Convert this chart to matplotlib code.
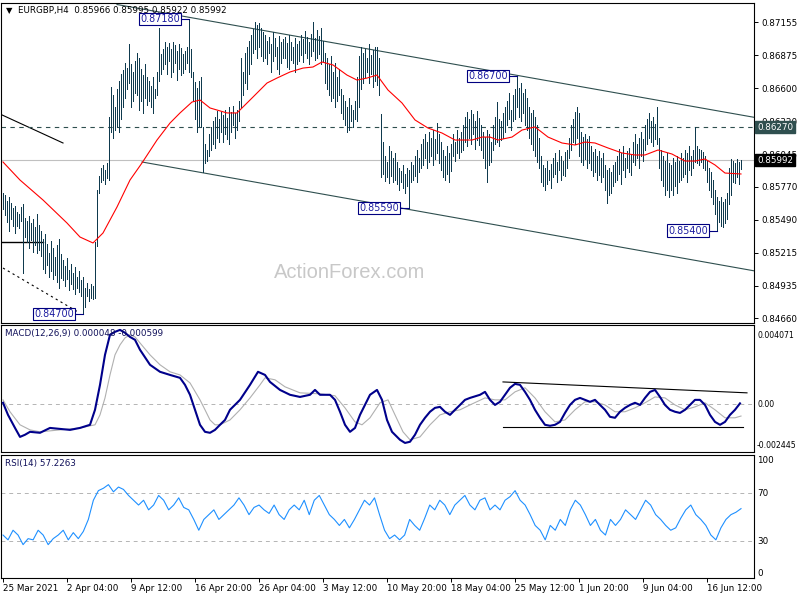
import numpy as np
import matplotlib
matplotlib.use("Agg")
import matplotlib.pyplot as plt
from matplotlib.transforms import blended_transform_factory as btf

plt.rcParams['font.family'] = ['DejaVu Sans']

symbol = "EURGBP,H4"
last_ohlc = ["0.85966", "0.85995", "0.85922", "0.85992"]
last_close = 0.85992
resistance = 0.8627

highs = [
    0.8572, 0.8570, 0.8565, 0.8568, 0.8563, 0.8559, 0.8561, 0.8556, 0.8554, 0.8560,
    0.8562, 0.8551, 0.8548, 0.8552, 0.8546, 0.8550, 0.8543, 0.8554, 0.8545, 0.8540,
    0.8533, 0.8537, 0.8529, 0.8521, 0.8531, 0.8525, 0.8518, 0.8528, 0.8533, 0.8520,
    0.8515, 0.8510, 0.8517, 0.8507, 0.8512, 0.8504, 0.8509, 0.8501, 0.8506, 0.8498,
    0.8501, 0.8492, 0.8496, 0.8491, 0.8495, 0.8493, 0.8530, 0.8574, 0.8586, 0.8593,
    0.8595, 0.8591, 0.8597, 0.8636, 0.8661, 0.8654, 0.8644, 0.8659, 0.8666, 0.8672,
    0.8675, 0.8681, 0.8677, 0.8697, 0.8680, 0.8674, 0.8683, 0.8690, 0.8685, 0.8676,
    0.8671, 0.8680, 0.8669, 0.8666, 0.8662, 0.8669, 0.8659, 0.8674, 0.8711, 0.8689,
    0.8693, 0.8699, 0.8695, 0.8698, 0.8693, 0.8699, 0.8696, 0.8691, 0.8697, 0.8694,
    0.8689, 0.8691, 0.8695, 0.8718, 0.8693, 0.8674, 0.8665, 0.8660, 0.8666, 0.8669,
    0.8627, 0.8613, 0.8608, 0.8621, 0.8627, 0.8632, 0.8636, 0.8641, 0.8634, 0.8640,
    0.8637, 0.8642, 0.8635, 0.8644, 0.8640, 0.8645, 0.8639, 0.8642, 0.8649, 0.8685,
    0.8674, 0.8690, 0.8695, 0.8700, 0.8705, 0.8710, 0.8716, 0.8713, 0.8715, 0.8711,
    0.8707, 0.8705, 0.8700, 0.8703, 0.8697, 0.8707, 0.8702, 0.8695, 0.8704, 0.8699,
    0.8701, 0.8703, 0.8698, 0.8705, 0.8699, 0.8695, 0.8702, 0.8697, 0.8700, 0.8705,
    0.8701, 0.8708, 0.8703, 0.8699, 0.8706, 0.8716, 0.8702, 0.8709, 0.8704, 0.8711,
    0.8700, 0.8690, 0.8685, 0.8680, 0.8687, 0.8674, 0.8681, 0.8669, 0.8676, 0.8659,
    0.8654, 0.8649, 0.8644, 0.8652, 0.8646, 0.8642, 0.8649, 0.8669, 0.8687, 0.8695,
    0.8690, 0.8693, 0.8685, 0.8697, 0.8688, 0.8692, 0.8695, 0.8695, 0.8685, 0.8638,
    0.8615, 0.8603, 0.8598, 0.8611, 0.8607, 0.8601, 0.8605, 0.8598, 0.8593, 0.8590,
    0.8595, 0.8588, 0.8593, 0.8591, 0.8598, 0.8595, 0.8603, 0.8608, 0.8601, 0.8613,
    0.8617, 0.8621, 0.8615, 0.8623, 0.8618, 0.8625, 0.8617, 0.8631, 0.8621, 0.8615,
    0.8608, 0.8603, 0.8611, 0.8605, 0.8613, 0.8621, 0.8615, 0.8625, 0.8618, 0.8623,
    0.8629, 0.8636, 0.8640, 0.8634, 0.8642, 0.8638, 0.8632, 0.8641, 0.8635, 0.8629,
    0.8623, 0.8619, 0.8625, 0.8621, 0.8615, 0.8629, 0.8636, 0.8648, 0.8634, 0.8632,
    0.8639, 0.8644, 0.8649, 0.8656, 0.8642, 0.8654, 0.8659, 0.8670, 0.8660, 0.8664,
    0.8656, 0.8659, 0.8652, 0.8644, 0.8639, 0.8642, 0.8636, 0.8629, 0.8618, 0.8603,
    0.8595, 0.8593, 0.8599, 0.8591, 0.8596, 0.8601, 0.8605, 0.8598, 0.8608, 0.8603,
    0.8599, 0.8606, 0.8608, 0.8618, 0.8629, 0.8634, 0.8640, 0.8644, 0.8639, 0.8623,
    0.8619, 0.8621, 0.8617, 0.8620, 0.8611, 0.8606, 0.8609, 0.8603, 0.8607, 0.8601,
    0.8605, 0.8595, 0.8591, 0.8593, 0.8589, 0.8595, 0.8598, 0.8603, 0.8609, 0.8605,
    0.8611, 0.8601, 0.8607, 0.8610, 0.8604, 0.8615, 0.8621, 0.8613, 0.8618, 0.8623,
    0.8617, 0.8629, 0.8634, 0.8639, 0.8632, 0.8636, 0.8630, 0.8644, 0.8618, 0.8608,
    0.8603, 0.8599, 0.8605, 0.8597, 0.8595, 0.8601, 0.8598, 0.8603, 0.8599, 0.8605,
    0.8601, 0.8608, 0.8605, 0.8611, 0.8603, 0.8608, 0.8627, 0.8611, 0.8609, 0.8608,
    0.8606, 0.8603, 0.8599, 0.8593, 0.8589, 0.8583, 0.8574, 0.8568, 0.8565, 0.8568,
    0.8564, 0.8567, 0.8572, 0.8593, 0.8600, 0.8599, 0.8597, 0.8600, 0.8598, 0.85995,
]
lows = [
    0.8558, 0.8553, 0.8547, 0.8540, 0.8550, 0.8544, 0.8538, 0.8544, 0.8542, 0.8548,
    0.8504, 0.8535, 0.8530, 0.8525, 0.8532, 0.8522, 0.8528, 0.8521, 0.8524, 0.8519,
    0.8508, 0.8504, 0.8511, 0.8501, 0.8506, 0.8499, 0.8503, 0.8497, 0.8492, 0.8500,
    0.8498, 0.8493, 0.8499, 0.8490, 0.8495, 0.8491, 0.8487, 0.8492, 0.8488, 0.8485,
    0.8470, 0.8476, 0.8485, 0.8481, 0.8483, 0.8482, 0.8483, 0.8527, 0.8572, 0.8581,
    0.8583, 0.8579, 0.8584, 0.8583, 0.8623, 0.8618, 0.8625, 0.8627, 0.8623, 0.8634,
    0.8644, 0.8652, 0.8659, 0.8664, 0.8644, 0.8649, 0.8656, 0.8654, 0.8642, 0.8649,
    0.8639, 0.8652, 0.8646, 0.8649, 0.8644, 0.8639, 0.8652, 0.8654, 0.8666, 0.8672,
    0.8676, 0.8680, 0.8672, 0.8683, 0.8669, 0.8674, 0.8681, 0.8667, 0.8676, 0.8671,
    0.8673, 0.8676, 0.8681, 0.8674, 0.8669, 0.8649, 0.8634, 0.8623, 0.8628, 0.8627,
    0.8589, 0.8597, 0.8599, 0.8603, 0.8608, 0.8613, 0.8610, 0.8618, 0.8615, 0.8623,
    0.8615, 0.8621, 0.8617, 0.8613, 0.8623, 0.8629, 0.8618, 0.8625, 0.8632, 0.8644,
    0.8654, 0.8664, 0.8659, 0.8672, 0.8680, 0.8690, 0.8693, 0.8685, 0.8695, 0.8687,
    0.8683, 0.8685, 0.8680, 0.8690, 0.8674, 0.8683, 0.8687, 0.8676, 0.8672, 0.8681,
    0.8685, 0.8685, 0.8678, 0.8676, 0.8684, 0.8681, 0.8674, 0.8680, 0.8683, 0.8688,
    0.8682, 0.8690, 0.8685, 0.8680, 0.8687, 0.8691, 0.8684, 0.8685, 0.8689, 0.8680,
    0.8683, 0.8664, 0.8659, 0.8654, 0.8649, 0.8652, 0.8644, 0.8649, 0.8654, 0.8639,
    0.8634, 0.8629, 0.8623, 0.8625, 0.8632, 0.8627, 0.8634, 0.8632, 0.8644, 0.8659,
    0.8664, 0.8669, 0.8674, 0.8664, 0.8672, 0.8661, 0.8666, 0.8663, 0.8654, 0.8585,
    0.8588, 0.8582, 0.8585, 0.8580, 0.8586, 0.8581, 0.8583, 0.8579, 0.8574, 0.8581,
    0.8576, 0.8572, 0.8578, 0.8559, 0.8581, 0.8583, 0.8586, 0.8581, 0.8589, 0.8593,
    0.8595, 0.8601, 0.8593, 0.8598, 0.8603, 0.8595, 0.8600, 0.8605, 0.8597, 0.8591,
    0.8585, 0.8583, 0.8588, 0.8581, 0.8590, 0.8603, 0.8599, 0.8605, 0.8601, 0.8606,
    0.8608, 0.8615, 0.8611, 0.8618, 0.8613, 0.8621, 0.8609, 0.8616, 0.8612, 0.8608,
    0.8601, 0.8593, 0.8581, 0.8595, 0.8598, 0.8608, 0.8613, 0.8615, 0.8611, 0.8616,
    0.8618, 0.8623, 0.8629, 0.8634, 0.8625, 0.8632, 0.8634, 0.8644, 0.8636, 0.8632,
    0.8639, 0.8629, 0.8625, 0.8618, 0.8613, 0.8608, 0.8603, 0.8598, 0.8593, 0.8581,
    0.8578, 0.8574, 0.8579, 0.8583, 0.8576, 0.8585, 0.8588, 0.8581, 0.8591, 0.8583,
    0.8587, 0.8586, 0.8593, 0.8601, 0.8608, 0.8615, 0.8613, 0.8618, 0.8603, 0.8598,
    0.8595, 0.8600, 0.8593, 0.8597, 0.8591, 0.8586, 0.8589, 0.8583, 0.8587, 0.8581,
    0.8585, 0.8574, 0.8563, 0.8570, 0.8572, 0.8578, 0.8581, 0.8583, 0.8588, 0.8579,
    0.8591, 0.8585, 0.8593, 0.8589, 0.8587, 0.8598, 0.8595, 0.8601, 0.8593, 0.8603,
    0.8599, 0.8608, 0.8613, 0.8618, 0.8615, 0.8611, 0.8617, 0.8613, 0.8593, 0.8583,
    0.8578, 0.8570, 0.8574, 0.8568, 0.8574, 0.8570, 0.8578, 0.8572, 0.8581, 0.8583,
    0.8585, 0.8588, 0.8581, 0.8591, 0.8587, 0.8593, 0.8598, 0.8597, 0.8595, 0.8598,
    0.8593, 0.8591, 0.8581, 0.8574, 0.8568, 0.8562, 0.8554, 0.8540, 0.8547, 0.8544,
    0.8543, 0.8546, 0.8550, 0.8562, 0.8570, 0.8581, 0.8580, 0.8585, 0.8579, 0.85922,
]

# moving average (bar index, value)
ma_idx = [0, 8.5, 20, 32, 38.5, 45, 50, 57, 63.5, 69.5,
          77, 83.5, 88.5, 94.5, 98.5, 103.5, 112, 117, 125, 132,
          137, 143.5, 150, 155, 159.5, 165, 172, 177, 182, 187,
          192.5, 199.5, 206, 212.5, 219.5, 226, 234.5, 239.5, 243.5, 247.5,
          254.5, 259.5, 266, 272.5, 279.5, 286, 291, 296, 302.5, 309.5,
          316, 321, 327.5, 334.5, 341, 346, 351, 356, 361, 369]
ma_val = [0.85978, 0.85826, 0.85658, 0.85464, 0.85346, 0.85296, 0.85380, 0.85599, 0.85826, 0.85970,
          0.86163, 0.86306, 0.86391, 0.86483, 0.86500, 0.86433, 0.86391, 0.86391, 0.86525, 0.86643,
          0.86685, 0.86736, 0.86769, 0.86778, 0.86820, 0.86795, 0.86710, 0.86668, 0.86685, 0.86710,
          0.86584, 0.86475, 0.86332, 0.86264, 0.86222, 0.86163, 0.86163, 0.86188, 0.86188, 0.86163,
          0.86188, 0.86247, 0.86273, 0.86188, 0.86138, 0.86121, 0.86146, 0.86138, 0.86096, 0.86054,
          0.86037, 0.86037, 0.86079, 0.86045, 0.85986, 0.85986, 0.86003, 0.85953, 0.85885, 0.85877]

# MACD main line
macd_idx = [0, 2.5, 6, 8.5, 11, 13.5, 18.5, 23.5, 28.5, 33.5,
            38.5, 43.5, 46, 48.5, 51, 53.5, 56, 58.5, 61, 63.5,
            66, 68.5, 73.5, 78.5, 83.5, 88.5, 91, 93.5, 96, 98.5,
            101, 103.5, 106, 108.5, 111, 113.5, 118.5, 123.5, 127.5, 131,
            133.5, 138.5, 143.5, 148.5, 153.5, 156, 158.5, 163.5, 166, 168.5,
            171, 173.5, 176, 178.5, 183.5, 187, 189.5, 192, 194.5, 198.5,
            201, 203.5, 206, 208.5, 211, 213.5, 216, 218.5, 221, 223.5,
            226, 228.5, 231, 233.5, 238.5, 241, 243.5, 246, 248.5, 251,
            253.5, 256, 258.5, 261, 263.5, 266, 268.5, 271, 273.5, 276,
            278.5, 281, 283.5, 286, 288.5, 291, 293.5, 296, 298.5, 301,
            303.5, 306, 308.5, 311, 313.5, 316, 318.5, 321, 323.5, 326,
            328.5, 331, 333.5, 336, 338.5, 341, 343.5, 346, 348.5, 351,
            353.5, 356, 358.5, 361, 363.5, 366, 368.5]
macd_main = [0.00008, -0.00054, -0.00121, -0.00167, -0.00156, -0.00141, -0.00146, -0.00121, -0.00126, -0.00131,
             -0.00121, -0.00105, -0.00028, 0.00100, 0.00254, 0.00357, 0.00372, 0.00382, 0.00367, 0.00346,
             0.00331, 0.00280, 0.00203, 0.00167, 0.00151, 0.00136, 0.00100, 0.00049, -0.00028, -0.00105,
             -0.00141, -0.00146, -0.00131, -0.00105, -0.00080, -0.00028, 0.00023, 0.00100, 0.00167, 0.00151,
             0.00115, 0.00074, 0.00049, 0.00038, 0.00049, 0.00074, 0.00049, 0.00049, 0.00023, -0.00038,
             -0.00105, -0.00141, -0.00121, -0.00054, 0.00049, 0.00074, 0.00023, -0.00080, -0.00141, -0.00182,
             -0.00198, -0.00192, -0.00156, -0.00105, -0.00069, -0.00038, -0.00018, -0.00013, -0.00038, -0.00054,
             -0.00028, -0.00003, 0.00023, 0.00033, 0.00049, 0.00064, 0.00023, -0.00003, 0.00013, 0.00049,
             0.00085, 0.00105, 0.00100, 0.00064, 0.00023, -0.00028, -0.00069, -0.00105, -0.00110, -0.00105,
             -0.00090, -0.00044, -0.00003, 0.00023, 0.00033, 0.00023, 0.00013, 0.00023, -0.00003, -0.00028,
             -0.00064, -0.00069, -0.00038, -0.00018, -0.00003, 0.00008, -0.00003, 0.00033, 0.00064, 0.00074,
             0.00038, -0.00003, -0.00028, -0.00038, -0.00044, -0.00028, -0.00003, 0.00023, 0.00023, -0.00003,
             -0.00054, -0.00090, -0.00105, -0.00090, -0.00054, -0.00028, 0.00005]

# MACD signal line
sig_idx = [0, 3.5, 8.5, 13.5, 18.5, 28.5, 38.5, 46, 48.5, 51,
           53.5, 56, 58.5, 61, 63.5, 66, 68.5, 73.5, 78.5, 83.5,
           88.5, 93.5, 98.5, 101, 103.5, 106, 108.5, 113.5, 118.5, 123.5,
           128.5, 131, 136, 141, 148.5, 158.5, 166, 171, 176, 179.5,
           183.5, 188.5, 192.5, 196, 200, 203.5, 208.5, 213.5, 218.5, 223.5,
           228.5, 233.5, 241, 246, 251, 256, 261, 266, 271, 276,
           281, 286, 291, 296, 301, 306, 311, 316, 321, 326,
           331, 336, 341, 346, 351, 356, 361, 366, 369]
sig_val = [0.00023, -0.00038, -0.00105, -0.00131, -0.00141, -0.00131, -0.00121, -0.00105, -0.00054, 0.00033,
           0.00151, 0.00254, 0.00305, 0.00341, 0.00357, 0.00346, 0.00315, 0.00254, 0.00203, 0.00167,
           0.00151, 0.00110, 0.00023, -0.00028, -0.00080, -0.00105, -0.00105, -0.00080, -0.00028, 0.00033,
           0.00100, 0.00136, 0.00126, 0.00090, 0.00059, 0.00054, 0.00044, -0.00018, -0.00090, -0.00105,
           -0.00069, 0.00008, 0.00023, -0.00054, -0.00141, -0.00182, -0.00167, -0.00105, -0.00054, -0.00038,
           -0.00028, -0.00003, 0.00033, 0.00023, 0.00023, 0.00064, 0.00085, 0.00033, -0.00038, -0.00090,
           -0.00080, -0.00028, 0.00013, 0.00013, -0.00003, -0.00038, -0.00038, -0.00018, 0.00008, 0.00038,
           0.00033, -0.00003, -0.00028, -0.00013, 0.00008, -0.00028, -0.00069, -0.00069, -0.00060]
macd_label = "MACD(12,26,9) 0.000048 -0.000599"
macd_range = (-0.002445, 0.004071)

# RSI(14), sampled across the whole window
rsi_val = [35, 31, 39, 35, 27, 32, 31, 39, 35, 27,
           32, 35, 39, 31, 37, 32, 38, 48, 64, 72,
           74, 77, 71, 75, 73, 68, 64, 60, 64, 56,
           60, 68, 64, 56, 60, 66, 58, 56, 48, 39,
           48, 52, 56, 48, 52, 56, 60, 66, 60, 52,
           58, 60, 56, 53, 60, 52, 48, 56, 60, 56,
           64, 52, 64, 68, 60, 52, 48, 43, 48, 41,
           48, 56, 64, 60, 66, 52, 39, 32, 35, 31,
           35, 48, 43, 39, 49, 60, 56, 64, 60, 52,
           60, 64, 68, 60, 56, 64, 66, 56, 60, 56,
           64, 67, 72, 64, 60, 52, 43, 39, 31, 43,
           39, 48, 43, 56, 64, 60, 52, 43, 48, 39,
           35, 48, 43, 48, 56, 52, 48, 56, 64, 60,
           52, 48, 43, 39, 41, 49, 56, 60, 52, 48,
           43, 35, 31, 41, 48, 52, 54, 57]
rsi_label = "RSI(14) 57.2263"

price_ticks = [0.84660, 0.84935, 0.85215, 0.85490, 0.85770,
               0.86045, 0.86320, 0.86600, 0.86875, 0.87155]
date_idx = [0, 32, 64, 96, 128, 160, 192, 224, 256, 288, 320, 352]
date_labels = ["25 Mar 2021", "2 Apr 04:00", "9 Apr 12:00", "16 Apr 20:00",
               "26 Apr 04:00", "3 May 12:00", "10 May 20:00", "18 May 04:00",
               "25 May 12:00", "1 Jun 20:00", "9 Jun 04:00", "16 Jun 12:00"]

ann_text = ["0.87180", "0.84700", "0.85590", "0.86700", "0.85400"]
ann_price = [0.8718, 0.8470, 0.8559, 0.8670, 0.8540]
ann_bar = [93, 40, 203, 257, 357]
ann_box_left = [67.5, 14.5, 177, 231.5, 331.5]

chan_up = ([57, 376], [0.87304, 0.86353])
chan_lo = ([69.5, 376], [0.85978, 0.85060])
old_diag = ([-1.5, 30], [0.86382, 0.86138])
old_hline = ([-1.5, 20], [0.85307, 0.85307])
old_dash = ([0, 37.5], [0.85085, 0.84715])
macd_tri_up = ([250, 372], [0.00115, 0.00059])
macd_tri_lo = ([250, 370], [-0.00115, -0.00115])

# ---------------------------------------------------------------- layout
W, H = 800, 600
fig = plt.figure(figsize=(8, 6), dpi=100)
fig.patch.set_facecolor('white')


def rect(x0, y0, x1, y1):
    return [x0 / W, 1 - y1 / H, (x1 - x0) / W, (y1 - y0) / H]


ax = fig.add_axes(rect(1, 3, 754, 323))
axm = fig.add_axes(rect(1, 325, 754, 452))
axr = fig.add_axes(rect(1, 455, 754, 578))
for a in (ax, axm, axr):
    a.set_xlim(-1, 375.5)
    a.set_facecolor('white')
    for s in a.spines.values():
        s.set_linewidth(0.8)
        s.set_color('black')
    a.tick_params(axis='x', bottom=False, labelbottom=False)
    a.tick_params(axis='y', left=False, labelleft=False)

FS = 6.3
FS_IND = 5.6
bar_col = '#0f3a4e'
slate = '#2f4f4f'

# ---------------------------------------------------------------- main
idx = np.arange(len(highs))
ax.set_ylim(0.84622, 0.87317)
lc = ax.vlines(idx, lows, highs, colors=bar_col, linewidth=0.72, zorder=3)
lc.set_antialiased(False)
ax.plot(ma_idx, ma_val, color='red', lw=0.8, zorder=4)

ax.plot(*chan_up, color=slate, lw=0.8, zorder=2)
ax.plot(*chan_lo, color=slate, lw=0.8, zorder=2)
ax.plot(*old_diag, color='black', lw=0.8, zorder=2)
ax.plot(*old_hline, color='black', lw=1.0, zorder=2)
ax.plot(*old_dash, color='black', lw=0.8, ls=(0, (2, 3)), zorder=2)
ax.axhline(resistance, color=slate, lw=0.8, ls=(0, (4, 4)), zorder=2)
ax.axhline(last_close, color='#c0c0c0', lw=0.8, zorder=1)

ax.yaxis.tick_right()
ax.set_yticks(price_ticks)
ax.set_yticklabels([f"{v:.5f}" for v in price_ticks])
ax.tick_params(axis='y', right=True, labelright=True, length=3, width=0.7,
               pad=2, labelsize=FS, direction='out')

tr = btf(ax.transAxes, ax.transData)
ax.text(1.004, resistance, f"{resistance:.5f}", transform=tr, fontsize=FS,
        color='white', va='center', ha='left', zorder=10, clip_on=False,
        bbox=dict(boxstyle='square,pad=0.18', fc=slate, ec=slate))
ax.text(1.004, last_close, f"{last_close:.5f}", transform=tr, fontsize=FS,
        color='white', va='center', ha='left', zorder=10, clip_on=False,
        bbox=dict(boxstyle='square,pad=0.18', fc='black', ec='black'))

for t, p, b, bl in zip(ann_text, ann_price, ann_bar, ann_box_left):
    ax.plot([bl + 5, b], [p, p], color='#000080', lw=0.8, zorder=5)
    ax.text(bl + 1, p, t, fontsize=6.9, color='#1c1ca0', va='center', ha='left',
            zorder=6, bbox=dict(boxstyle='square,pad=0.12', fc='white',
                                ec='#000080', lw=0.8))

ax.text(0.0066, 0.978, '\u25bc', transform=ax.transAxes, fontsize=6,
        va='center', ha='left', color='black')
ax.text(0.0226, 0.978, f"{symbol}  " + " ".join(last_ohlc),
        transform=ax.transAxes, fontsize=FS, va='center', ha='left', color='black')
ax.text(0.4635, 0.159, "ActionForex.com", transform=ax.transAxes,
        fontsize=14.5, family='Liberation Sans', color='#c8c8c8',
        ha='center', va='center', zorder=0)

# ---------------------------------------------------------------- MACD
axm.set_ylim(*macd_range)
axm.axhline(0, color='#b4b4b4', lw=0.7, ls=(0, (4, 4)), zorder=1)
axm.plot(sig_idx, sig_val, color='#b0b0b0', lw=0.8, zorder=2)
axm.plot(macd_idx, macd_main, color='#00008b', lw=1.5, zorder=3)
axm.plot(*macd_tri_up, color='black', lw=0.8, zorder=2)
axm.plot(*macd_tri_lo, color='black', lw=0.8, zorder=2)
axm.text(0.005, 0.935, macd_label, transform=axm.transAxes, fontsize=FS,
         va='center', ha='left', color='#10105a')
trm = btf(axm.transAxes, axm.transData)
axm.text(1.004, 0.921, f"{macd_range[1]:.6f}", transform=axm.transAxes,
         fontsize=FS_IND, va='center', ha='left', clip_on=False)
axm.text(1.004, 0.0, "0.00", transform=trm, fontsize=FS_IND, va='center',
         ha='left', clip_on=False)
axm.text(1.003, 0.055, f"{macd_range[0]:.6f}", transform=axm.transAxes,
         fontsize=FS_IND, va='center', ha='left', clip_on=False)

# ---------------------------------------------------------------- RSI
axr.set_ylim(-0.8, 101.7)
rsi_x = np.linspace(0, len(highs) - 1, len(rsi_val))
for lvl in (70, 30):
    axr.axhline(lvl, color='#b4b4b4', lw=0.7, ls=(0, (4, 4)), zorder=1)
axr.plot(rsi_x, rsi_val, color='#1e90ff', lw=0.8, zorder=3)
axr.text(0.005, 0.93, rsi_label, transform=axr.transAxes, fontsize=FS,
         va='center', ha='left', color='#10105a')
trr = btf(axr.transAxes, axr.transData)
for lab, pos in (("100", 97.5), ("70", 70), ("30", 30), ("0", 3.3)):
    axr.text(1.004, pos, lab, transform=trr, fontsize=FS, va='center',
             ha='left', clip_on=False)

axr.set_xticks(date_idx)
axr.set_xticklabels(date_labels)
axr.tick_params(axis='x', bottom=True, labelbottom=True, length=3, width=0.7,
                pad=1.5, labelsize=FS, direction='out')
for lab in axr.get_xticklabels():
    lab.set_ha('left')

fig.savefig("out.png", dpi=100, facecolor='white')
